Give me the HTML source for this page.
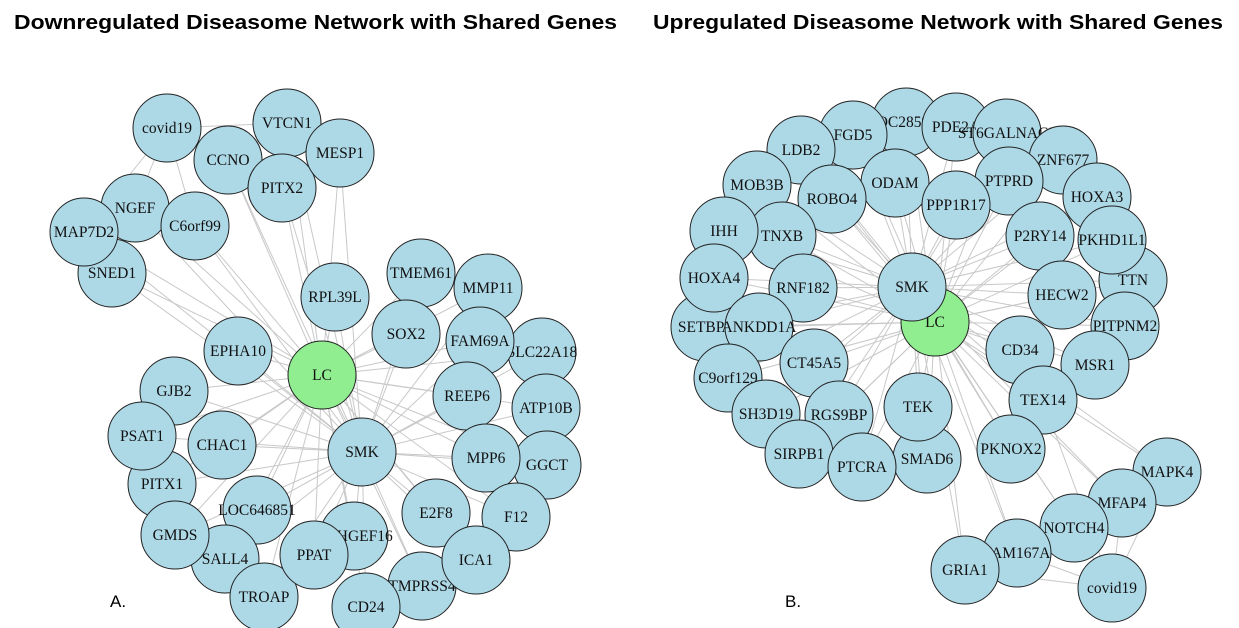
<!DOCTYPE html>
<html><head><meta charset="utf-8"><style>
html,body{margin:0;padding:0;background:#fff;width:1239px;height:628px;overflow:hidden}
svg{display:block}
.nt{font-family:"Liberation Serif",serif;font-size:15.5px;fill:#111}
</style></head><body>
<svg id="chart" width="1239" height="628" viewBox="0 0 1239 628">
<text x="14" y="29" font-family="Liberation Sans, sans-serif" font-weight="bold" font-size="20" textLength="603" lengthAdjust="spacingAndGlyphs">Downregulated Diseasome Network with Shared Genes</text>
<text x="653" y="29" font-family="Liberation Sans, sans-serif" font-weight="bold" font-size="20" textLength="570" lengthAdjust="spacingAndGlyphs">Upregulated Diseasome Network with Shared Genes</text>
<text x="110" y="607" font-family="Liberation Sans, sans-serif" font-size="17">A.</text>
<text x="785" y="607" font-family="Liberation Sans, sans-serif" font-size="17">B.</text>
<g id="edges"></g><g id="nodes"></g>
</svg>
<script>
// Network A (downregulated): gene names and layout positions
const namesA = ["covid19","VTCN1","CCNO","PITX2","MESP1","NGEF","C6orf99","SNED1","MAP7D2","RPL39L","TMEM61","MMP11","SOX2","SLC22A18","FAM69A","EPHA10","GJB2","ATP10B","REEP6","PITX1","PSAT1","CHAC1","GGCT","MPP6","F12","LOC646851","E2F8","ARHGEF16","SALL4","GMDS","TROAP","PPAT","TMPRSS4","CD24","ICA1","LC","SMK"];
const xA = [167,287,228,282,340,135,195,112,84,335,421,488,406,542,480,238,174,546,467,162,142,222,547,486,516,257,436,354,225,175,264,314,422,366,476,322,362];
const yA = [128,123,160,188,153,208,226,273,232,297,273,288,334,352,341,351,391,408,396,484,436,445,465,458,517,510,513,536,559,535,597,555,586,607,560,375,452];
const covidLinksA = ["CCNO","NGEF","C6orf99","VTCN1","MAP7D2"];
// Network B (upregulated)
const namesB = ["LOC285969","FGD5","PDE2A","ST6GALNAC3","LDB2","ZNF677","MOB3B","PTPRD","ODAM","ROBO4","HOXA3","PPP1R17","TNXB","IHH","P2RY14","TTN","PKHD1L1","SETBP1","HOXA4","RNF182","HECW2","PITPNM2","ANKDD1A","CD34","CT45A5","MSR1","C9orf129","SH3D19","TEX14","RGS9BP","PKNOX2","SIRPB1","SMAD6","TEK","PTCRA","MAPK4","MFAP4","NOTCH4","FAM167A","GRIA1","covid19","LC","SMK"];
const xB = [906,853,956,1007,801,1063,757,1009,895,832,1097,956,782,724,1040,1133,1112,705,714,803,1062,1125,759,1020,814,1095,728,766,1043,839,1011,799,927,918,862,1167,1122,1074,1017,965,1112,935,912];
const yB = [122,135,127,133,150,160,185,181,183,199,197,205,236,231,236,280,240,327,278,288,295,326,327,350,363,365,378,414,400,415,449,454,459,407,467,472,503,528,553,570,588,322,287];
const covidLinksB = ["MAPK4","MFAP4","NOTCH4","FAM167A","GRIA1","TEX14"];

const NS="http://www.w3.org/2000/svg";
const E=document.getElementById('edges'), N=document.getElementById('nodes');
function line(x1,y1,x2,y2){const l=document.createElementNS(NS,'line');
l.setAttribute('x1',x1);l.setAttribute('y1',y1);l.setAttribute('x2',x2);l.setAttribute('y2',y2);
l.setAttribute('stroke','#c8c8c8');l.setAttribute('stroke-width','1');


E.appendChild(l);}
function draw(names,xs,ys,links,tag){
 const idx=n=>names.indexOf(n);
 const lc=idx("LC"), smk=idx("SMK"), cv=idx("covid19");
 names.forEach((n,i)=>{ if(i===lc) return;
   if(i!==cv){ line(xs[i],ys[i],xs[lc],ys[lc]); if(i!==smk) line(xs[i],ys[i],xs[smk],ys[smk]); }
 });
 links.forEach(n=>{const j=idx(n); line(xs[cv],ys[cv],xs[j],ys[j]);});
 names.forEach((n,i)=>{
   const g=document.createElementNS(NS,'g');
   
   
   const c=document.createElementNS(NS,'circle');
   c.setAttribute('cx',xs[i]);c.setAttribute('cy',ys[i]);c.setAttribute('r',34);
   c.setAttribute('fill',n==="LC"?'#90ee90':'#add8e6');c.setAttribute('stroke','#222');c.setAttribute('stroke-width','1');
   const t=document.createElementNS(NS,'text');
   t.setAttribute('x',xs[i]);t.setAttribute('y',ys[i]+5);t.setAttribute('text-anchor','middle');t.setAttribute('class','nt');
   t.textContent=n;
   g.appendChild(c);g.appendChild(t);N.appendChild(g);
 });
}
draw(namesA,xA,yA,covidLinksA,'a');
draw(namesB,xB,yB,covidLinksB,'b');
</script>
</body></html>
